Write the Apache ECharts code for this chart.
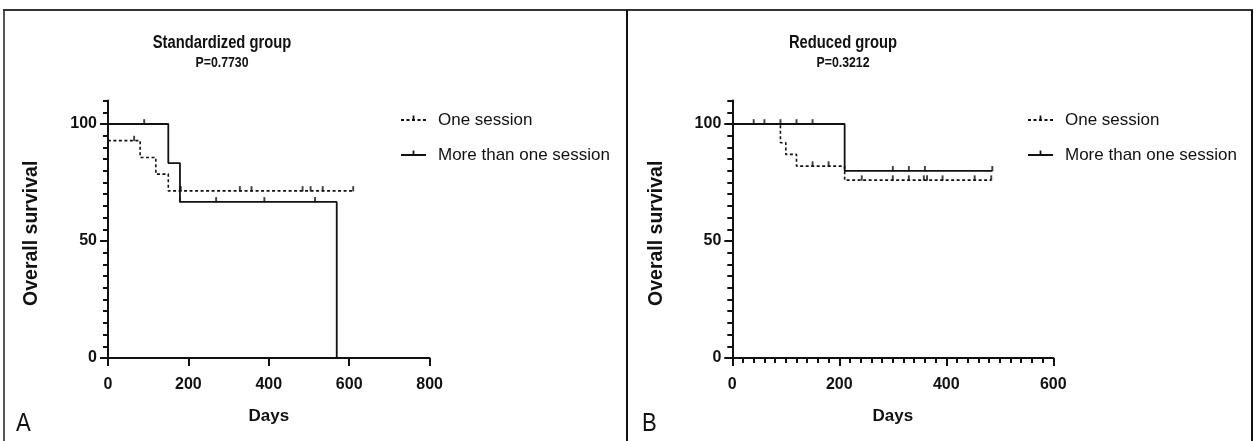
<!DOCTYPE html>
<html>
<head>
<meta charset="utf-8">
<script src="https://cdn.jsdelivr.net/npm/echarts@6/dist/echarts.min.js"></script>
<style>
html,body{margin:0;padding:0;background:#fff;}
#c{width:1260px;height:441px;}
</style>
</head>
<body>
<div id="c"></div>
<script>
// ---- Data (Kaplan-Meier curves, survival in %) ----
// Panel A: Standardized group
const aOneEventDays = [0, 80, 119, 150];
const aOneSurvival = [92.9, 85.7, 78.6, 71.4];
const aOneCensorDays = [65, 181, 328, 357, 484, 504, 534, 610];
const aOneLastDay = 610;

const aMoreEventDays = [150, 179, 569];
const aMoreSurvival = [83.3, 66.7, 0];
const aMoreCensorDays = [90, 179, 269, 389, 515];
const aMoreLastDay = 569;

// Panel B: Reduced group
const bOneEventDays = [90, 100, 120, 210];
const bOneSurvival = [92, 87, 82, 76];
const bOneCensorDays = [150, 180, 242, 300, 330, 358, 364, 393, 453, 484];
const bOneLastDay = 484;

const bMoreEventDays = [210];
const bMoreSurvival = [80];
const bMoreCensorDays = [40, 60, 90, 120, 150, 300, 330, 360, 486];
const bMoreLastDay = 486;

const seriesNames = ['One session', 'More than one session'];
const panelTitles = ['Standardized group', 'Reduced group'];
const panelPValues = ['P=0.7730', 'P=0.3212'];
const panelLetters = ['A', 'B'];
const yTickLabels = [0, 50, 100];
const xMaxA = 800, xMaxB = 600;

// ---- helpers ----
function kmPoints(days, surv, lastDay) {
  const pts = [[0, 100]];
  let s = 100;
  for (let i = 0; i < days.length; i++) {
    pts.push([days[i], s]);
    s = surv[i];
    pts.push([days[i], s]);
  }
  pts.push([lastDay, s]);
  return pts;
}
function survAt(days, surv, t) {
  let s = 100;
  for (let i = 0; i < days.length; i++) if (t >= days[i]) s = surv[i];
  return s;
}
function censorPoints(days, surv, cens) {
  return cens.map(t => [t, survAt(days, surv, t)]);
}

const INK = '#111';
const FONT = "'Liberation Sans', Arial, sans-serif";
const TICK = 'path://M0,0L0,0M10,10L10,10M4.2,1.0L5.8,1.0L5.8,5.4L4.2,5.4Z';
const dashed = [3, 2.5];

function xAxis(gridIndex, max, minor) {
  return {
    type: 'value', gridIndex, min: 0, max, interval: 200,
    axisLine: {onZero: false, lineStyle: {color: INK, width: 2}},
    axisTick: {length: 8, lineStyle: {color: INK, width: 2}},
    minorTick: {show: minor, splitNumber: 10, length: 5, lineStyle: {color: INK, width: 2}},
    splitLine: {show: false}, minorSplitLine: {show: false},
    axisLabel: {margin: 19, fontSize: 16, fontWeight: 'bold', color: INK, fontFamily: FONT},
    name: 'Days', nameLocation: 'middle', nameGap: 50,
    nameTextStyle: {fontSize: 17, fontWeight: 'bold', color: INK, fontFamily: FONT}
  };
}
function yAxis(gridIndex) {
  return {
    type: 'value', gridIndex, position: 'left', min: 0, max: 110, interval: 5,
    axisLine: {onZero: false, lineStyle: {color: INK, width: 2}},
    axisTick: {length: 5, lineStyle: {color: INK, width: 2}},
    splitLine: {show: false},
    axisLabel: {margin: 11, fontSize: 16, fontWeight: 'bold', color: INK, fontFamily: FONT,
      formatter: v => (yTickLabels.indexOf(v) >= 0 ? String(v) : '')},
    name: 'Overall survival', nameLocation: 'middle', nameGap: 66, nameRotate: 90,
    nameTextStyle: {fontSize: 19.5, fontWeight: 'bold', color: INK, fontFamily: FONT, padding: [0, 8, 0, 0]}
  };
}
function yMajorOverlay(gridIndex) {
  return {
    type: 'value', gridIndex, position: 'left', min: 0, max: 110, interval: 50,
    axisLine: {show: false},
    axisTick: {length: 8, customValues: yTickLabels, lineStyle: {color: INK, width: 2}},
    axisLabel: {show: false}, splitLine: {show: false}
  };
}
function lineSeries(name, xi, yi, pts, isDashed) {
  return {
    type: 'line', name, xAxisIndex: xi, yAxisIndex: yi, data: pts,
    showSymbol: false, symbol: TICK, symbolSize: 12, animation: false, silent: true,
    lineStyle: {color: INK, width: isDashed ? 1.6 : 1.8, type: isDashed ? dashed : 'solid'},
    itemStyle: {color: INK, borderWidth: 0},
    emphasis: {disabled: true}, z: 3
  };
}
function censorSeries(name, xi, yi, pts) {
  return {
    type: 'scatter', name, xAxisIndex: xi, yAxisIndex: yi, data: pts,
    symbol: TICK, symbolSize: 12, animation: false, silent: true,
    itemStyle: {color: INK, borderWidth: 0}, emphasis: {disabled: true}, z: 4
  };
}
function legend(left) {
  return {
    data: seriesNames, orient: 'vertical', left, top: 110, padding: 0, itemWidth: 25, itemHeight: 14,
    itemGap: 15, selectedMode: false,
    textStyle: {fontSize: 17, color: INK, fontFamily: FONT, lineHeight: 20, padding: [0, 0, 0, 7]}
  };
}
// Titles drawn as real text, horizontally condensed like the reference's narrow face
function titleTexts(i, cx) {
  return [
    {type: 'text', silent: true, x: cx, y: 43, scaleX: 0.82,
     style: {text: panelTitles[i], fontSize: 18, fontWeight: 'bold', fontFamily: FONT, fill: INK, align: 'center', verticalAlign: 'middle'}},
    {type: 'text', silent: true, x: cx, y: 63, scaleX: 0.82,
     style: {text: panelPValues[i], fontSize: 15, fontWeight: 'bold', fontFamily: FONT, fill: INK, align: 'center', verticalAlign: 'middle'}}
  ];
}

const chart = echarts.init(document.getElementById('c'), null, {renderer: 'canvas'});
chart.setOption({
  backgroundColor: '#fff',
  animation: false,
  legend: [legend(400), legend(1027)],
  grid: [
    {left: 108, top: 100.6, width: 321.6, height: 257.4},
    {left: 732.3, top: 100.6, width: 321, height: 257.4}
  ],
  xAxis: [xAxis(0, xMaxA, false), xAxis(1, xMaxB, true)],
  yAxis: [yAxis(0), yMajorOverlay(0), yAxis(1), yMajorOverlay(1)],
  series: [
    lineSeries(seriesNames[0], 0, 0, kmPoints(aOneEventDays, aOneSurvival, aOneLastDay), true),
    lineSeries(seriesNames[1], 0, 0, kmPoints(aMoreEventDays, aMoreSurvival, aMoreLastDay), false),
    censorSeries('A one censored', 0, 0, censorPoints(aOneEventDays, aOneSurvival, aOneCensorDays)),
    censorSeries('A more censored', 0, 0, censorPoints(aMoreEventDays, aMoreSurvival, aMoreCensorDays)),
    lineSeries(seriesNames[0], 1, 2, kmPoints(bOneEventDays, bOneSurvival, bOneLastDay), true),
    lineSeries(seriesNames[1], 1, 2, kmPoints(bMoreEventDays, bMoreSurvival, bMoreLastDay), false),
    censorSeries('B one censored', 1, 2, censorPoints(bOneEventDays, bOneSurvival, bOneCensorDays)),
    censorSeries('B more censored', 1, 2, censorPoints(bMoreEventDays, bMoreSurvival, bMoreCensorDays))
  ],
  graphic: [
    {type: 'line', silent: true, shape: {x1: 4, y1: 10, x2: 4, y2: 441}, style: {stroke: '#555', lineWidth: 2}},
    {type: 'line', silent: true, shape: {x1: 3, y1: 10, x2: 1253, y2: 10}, style: {stroke: '#333', lineWidth: 2}},
    {type: 'line', silent: true, shape: {x1: 627, y1: 10, x2: 627, y2: 441}, style: {stroke: INK, lineWidth: 2}},
    {type: 'line', silent: true, shape: {x1: 1252, y1: 10, x2: 1252, y2: 441}, style: {stroke: INK, lineWidth: 2}},
    {type: 'text', silent: true, x: 16, y: 437, scaleX: 0.85, style: {text: panelLetters[0], fontSize: 26, fontFamily: FONT, fill: INK, verticalAlign: 'bottom'}},
    {type: 'text', silent: true, x: 642, y: 437, scaleX: 0.85, style: {text: panelLetters[1], fontSize: 26, fontFamily: FONT, fill: INK, verticalAlign: 'bottom'}}
  ].concat(titleTexts(0, 222), titleTexts(1, 843))
});
</script>
</body>
</html>
